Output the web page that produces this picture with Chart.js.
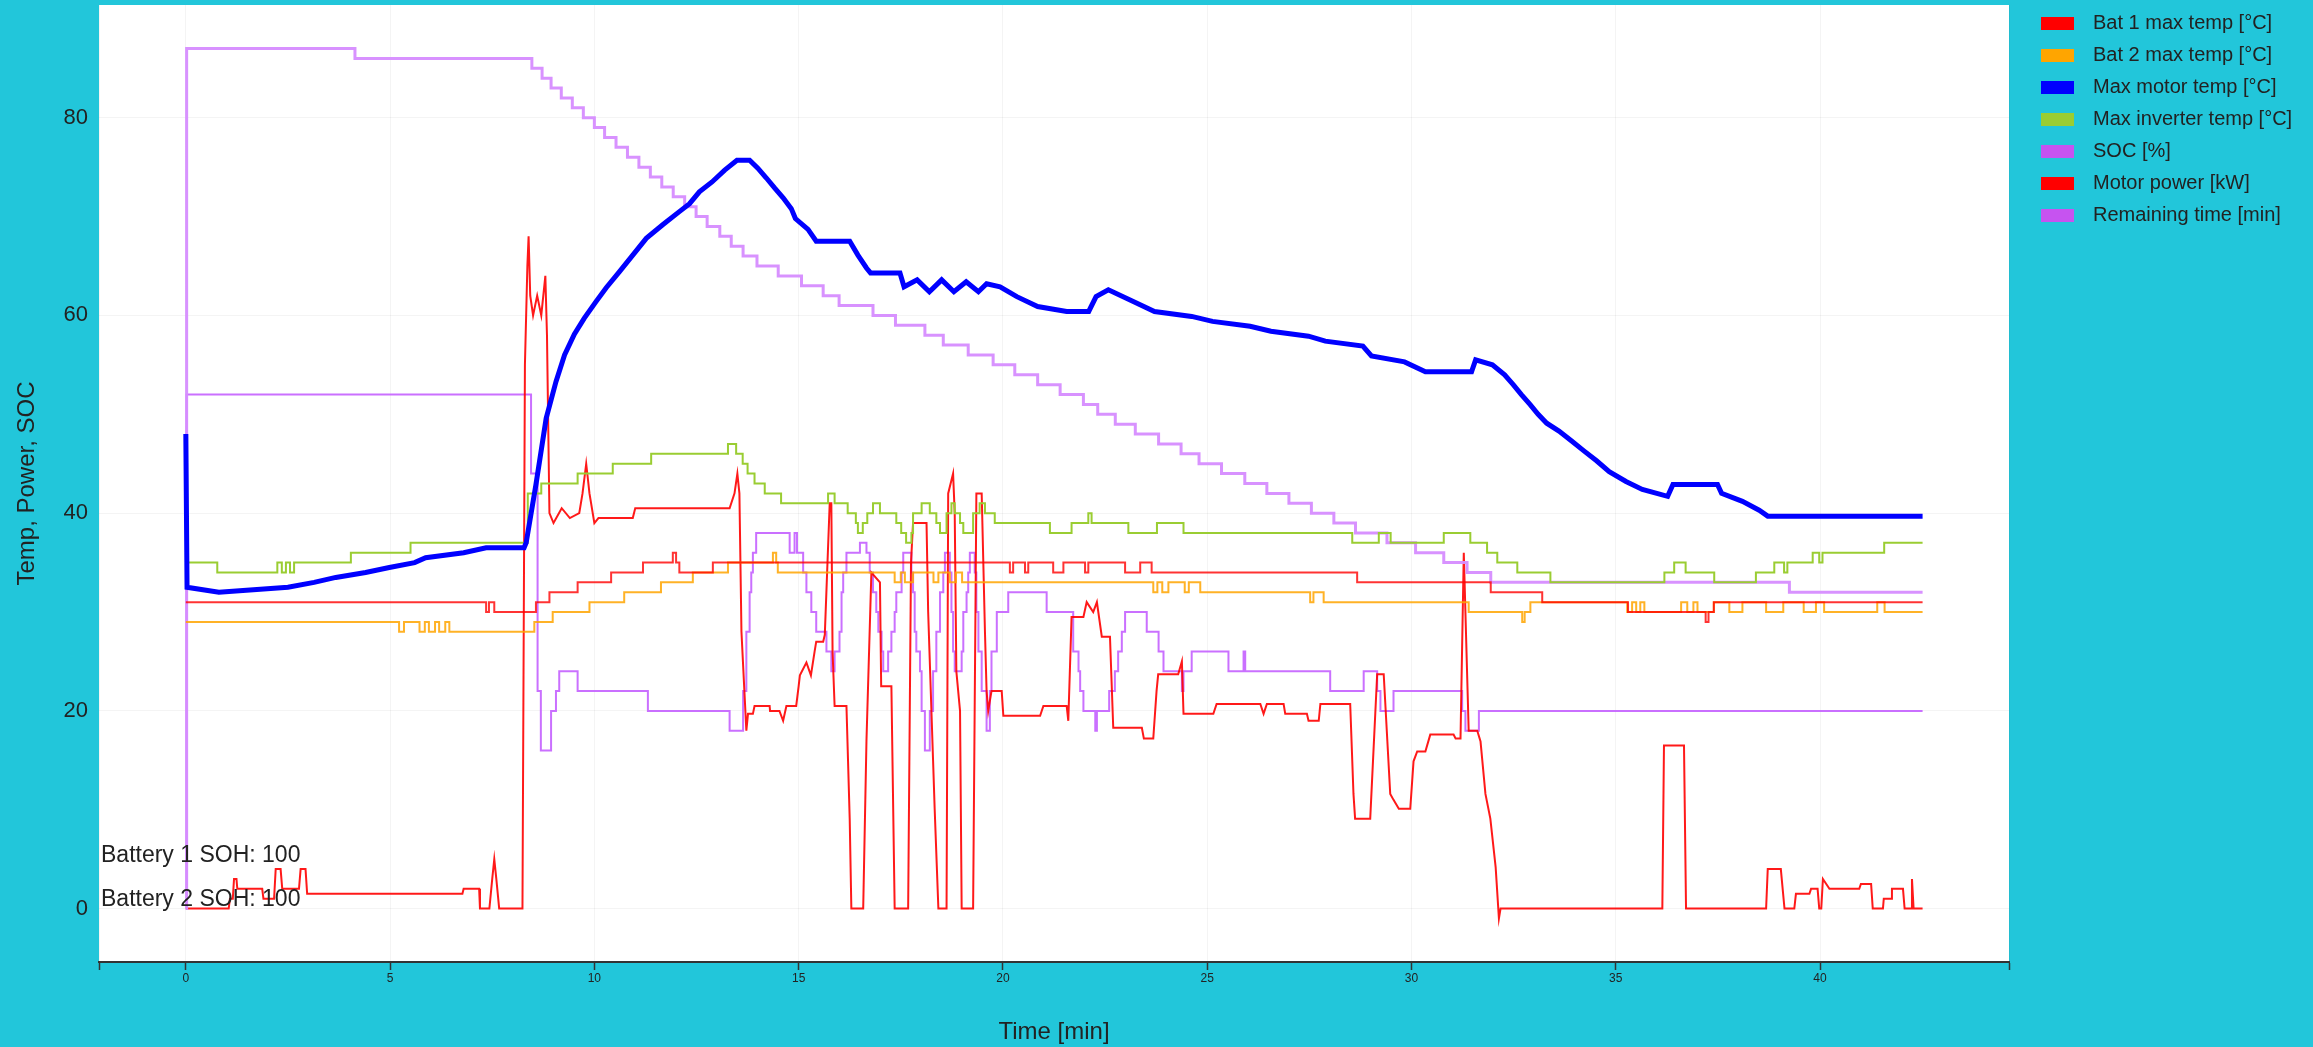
<!DOCTYPE html>
<html>
<head>
<meta charset="utf-8">
<script src="https://cdn.jsdelivr.net/npm/chart.js@4.4.1/dist/chart.umd.min.js"></script>
<style>
  html, body { margin: 0; padding: 0; background: #22c6da; overflow: hidden; }
  #wrap { position: relative; width: 2313px; height: 1047px; }
</style>
</head>
<body>
<div id="wrap"><canvas id="chart"></canvas></div>
<script>
// ---------------- DATA (time [min], value) ----------------
const seriesLabels = [
  'Bat 1 max temp [°C]', 'Bat 2 max temp [°C]', 'Max motor temp [°C]',
  'Max inverter temp [°C]', 'SOC [%]', 'Motor power [kW]', 'Remaining time [min]'
];
const xTickStep = 5;
const yTickValues = [0, 20, 40, 60, 80];
const sohLabels = ['Battery 1 SOH: 100', 'Battery 2 SOH: 100'];

const bat1MaxTemp = [[0,31],[7.35,30],[7.42,31],[7.55,30],[8.57,31],[8.9,32],[9.59,33],[10.41,34],[11.19,35],[11.92,36],[12.0,35],[12.08,34],[12.9,35],[20.17,34],[20.25,35],[20.54,34],[20.62,35],[21.23,34],[21.48,35],[22.01,34],[22.09,35],[22.99,34],[23.36,35],[23.64,34],[28.67,33],[31.94,32],[33.2,31],[35.3,30],[37.2,29],[37.27,30],[37.4,31],[42.51,31]];

const bat2MaxTemp = [[0,29],[5.22,28],[5.34,29],[5.72,28],[5.85,29],[5.95,28],[6.1,29],[6.2,28],[6.35,29],[6.45,28],[8.53,29],[8.98,30],[9.88,31],[10.73,32],[11.63,33],[12.41,34],[13.27,35],[14.37,36],[14.45,35],[14.49,34],[17.35,33],[17.5,34],[17.6,33],[17.8,34],[18.3,33],[18.42,34],[18.7,33],[18.85,34],[19.0,33],[23.68,32],[23.78,33],[23.9,32],[24.05,33],[24.45,32],[24.55,33],[24.83,32],[27.52,31],[27.6,32],[27.85,31],[31.4,30],[32.71,29],[32.77,30],[32.91,31],[35.28,30],[35.4,31],[35.5,30],[35.6,31],[35.7,30],[36.6,31],[36.75,30],[36.9,31],[37.0,30],[37.4,31],[37.78,30],[38.1,31],[38.68,30],[39.1,31],[39.6,30],[39.9,31],[40.1,30],[41.4,31],[41.58,30],[42.51,30]];

const maxMotorTemp = [[0,48],[0.03,32.5],[0.81,32],[2.5,32.5],[3.14,33],[3.67,33.5],[4.4,34],[4.98,34.5],[5.6,35],[5.87,35.5],[6.8,36],[7.35,36.5],[8.28,36.5],[8.33,37],[8.57,42.9],[8.82,49.6],[9.06,53.3],[9.27,56],[9.51,58.1],[9.75,59.7],[10.04,61.4],[10.29,62.8],[10.61,64.4],[10.94,66.1],[11.27,67.8],[11.68,69.2],[12.08,70.5],[12.33,71.3],[12.57,72.5],[12.88,73.5],[13.19,74.7],[13.49,75.7],[13.8,75.7],[14.0,74.9],[14.21,73.9],[14.41,72.9],[14.62,71.9],[14.82,70.8],[14.92,69.8],[15.23,68.7],[15.43,67.5],[16.25,67.5],[16.45,66.1],[16.66,64.8],[16.76,64.3],[17.48,64.3],[17.58,62.9],[17.9,63.6],[18.2,62.4],[18.5,63.6],[18.8,62.4],[19.1,63.4],[19.4,62.4],[19.6,63.2],[19.93,62.9],[20.34,61.9],[20.85,60.9],[21.56,60.4],[22.1,60.4],[22.28,61.9],[22.58,62.6],[23.19,61.4],[23.71,60.4],[24.62,59.9],[25.13,59.4],[26.05,58.9],[26.56,58.4],[27.48,57.9],[27.89,57.4],[28.81,56.9],[29.02,55.9],[29.83,55.3],[30.34,54.3],[31.47,54.3],[31.57,55.5],[31.98,55],[32.28,54],[32.49,53],[32.69,52],[32.9,51],[33.1,50],[33.31,49.1],[33.61,48.3],[33.92,47.3],[34.22,46.3],[34.53,45.3],[34.84,44.2],[35.25,43.2],[35.65,42.4],[36.27,41.7],[36.4,42.9],[37.49,42.9],[37.59,42],[38.1,41.2],[38.51,40.3],[38.72,39.7],[42.51,39.7]];

const maxInverterTemp = [[0,35],[0.77,34],[2.24,35],[2.35,34],[2.45,35],[2.55,34],[2.65,35],[4.04,36],[5.5,37],[8.24,37],[8.37,42],[8.7,43],[9.59,44],[10.45,45],[11.39,46],[13.27,47],[13.47,46],[13.63,45],[13.75,44],[13.92,43],[14.17,42],[14.57,41],[15.72,42],[15.88,41],[16.2,40],[16.4,39],[16.45,38],[16.57,39],[16.68,40],[16.82,41],[16.99,40],[17.39,39],[17.51,38],[17.63,37],[17.76,38],[17.8,40],[18.01,41],[18.21,40],[18.37,39],[18.46,38],[18.62,40],[18.74,41],[18.82,40],[18.95,39],[19.03,38],[19.27,40],[19.43,41],[19.56,40],[19.8,39],[21.15,38],[21.68,39],[22.09,40],[22.17,39],[23.07,38],[23.77,39],[24.42,38],[28.55,37],[29.2,38],[29.49,37],[30.79,38],[31.44,37],[31.85,36],[32.1,35],[32.59,34],[33.4,33],[36.19,34],[36.43,35],[36.71,34],[37.41,33],[38.43,34],[38.88,35],[39.12,34],[39.2,35],[39.82,36],[39.98,35],[40.06,36],[41.57,37],[42.51,37]];

const socPercent = [[0,0],[0.02,87],[4.14,86],[8.47,85],[8.72,84],[8.94,83],[9.19,82],[9.46,81],[9.73,80],[10.0,79],[10.25,78],[10.53,77],[10.81,76],[11.09,75],[11.37,74],[11.65,73],[11.93,72],[12.21,71],[12.49,70],[12.76,69],[13.07,68],[13.35,67],[13.64,66],[13.98,65],[14.5,64],[15.07,63],[15.6,62],[15.99,61],[16.82,60],[17.37,59],[18.09,58],[18.54,57],[19.15,56],[19.76,55],[20.29,54],[20.85,53],[21.4,52],[21.97,51],[22.32,50],[22.75,49],[23.24,48],[23.81,47],[24.36,46],[24.8,45],[25.35,44],[25.92,43],[26.46,42],[27.0,41],[27.55,40],[28.1,39],[28.63,38],[29.4,37],[30.1,36],[30.79,35],[31.36,34],[31.94,33],[39.25,32],[42.51,32]];

const motorPower = [[0,0],[1.05,0],[1.08,1],[1.15,1],[1.18,3],[1.24,3],[1.26,2],[1.87,2],[1.9,1],[2.16,1],[2.2,4],[2.32,4],[2.36,2],[2.77,2],[2.81,4],[2.93,4],[2.97,1.5],[6.77,1.5],[6.8,2],[7.18,2],[7.2,0],[7.43,0],[7.5,3],[7.55,5],[7.6,3],[7.67,0],[8.24,0],[8.3,55],[8.36,65],[8.39,68],[8.43,62],[8.5,60],[8.6,62],[8.7,60],[8.8,64],[8.84,58],[8.9,40],[9.0,39],[9.2,40.5],[9.4,39.5],[9.63,40],[9.71,42],[9.8,45],[9.88,42],[10.0,39],[10.1,39.5],[10.94,39.5],[11.0,40.5],[13.31,40.5],[13.43,42],[13.5,44],[13.55,42],[13.6,28],[13.72,18],[13.76,19.7],[13.88,19.7],[13.92,20.5],[14.29,20.5],[14.3,20],[14.53,20],[14.62,19],[14.7,20.5],[14.94,20.5],[15.0,22.5],[15.03,23.6],[15.19,24.9],[15.3,23.6],[15.39,26],[15.43,27],[15.6,27],[15.64,27.7],[15.76,41],[15.8,41],[15.83,26],[15.88,20.5],[16.17,20.5],[16.25,9],[16.29,0],[16.58,0],[16.66,17],[16.78,34],[16.99,33],[17.02,22.5],[17.27,22.5],[17.35,0],[17.68,0],[17.75,35],[17.8,39],[18.13,39],[18.17,30],[18.29,15],[18.33,10],[18.42,0],[18.62,0],[18.66,42],[18.78,44],[18.82,40],[18.86,24],[18.95,20],[18.99,0],[19.27,0],[19.35,42],[19.48,42],[19.56,28],[19.6,22],[19.64,20],[19.72,22],[19.97,22],[20.01,19.5],[20.91,19.5],[20.99,20.5],[21.56,20.5],[21.6,19],[21.68,29.5],[21.97,29.5],[22.05,31],[22.21,30],[22.3,31],[22.42,27.5],[22.62,27.5],[22.7,18.3],[23.4,18.3],[23.45,17.2],[23.68,17.2],[23.76,22],[23.8,23.7],[24.29,23.7],[24.38,25],[24.42,19.7],[25.15,19.7],[25.23,20.7],[26.3,20.7],[26.38,19.7],[26.46,20.7],[26.87,20.7],[26.91,19.7],[27.44,19.7],[27.48,19],[27.73,19],[27.77,20.7],[28.5,20.7],[28.58,11.6],[28.62,9.1],[28.99,9.1],[29.16,23.7],[29.32,23.7],[29.48,11.6],[29.56,11],[29.69,10.1],[29.97,10.1],[30.05,14.9],[30.14,15.9],[30.34,15.9],[30.46,17.6],[31.03,17.6],[31.08,17.2],[31.2,17.2],[31.28,36],[31.4,18],[31.61,18],[31.69,16.9],[31.81,11.6],[31.93,9.1],[32.06,4.2],[32.14,-1],[32.18,0],[36.14,0],[36.18,16.5],[36.67,16.5],[36.72,0],[38.68,0],[38.72,4],[39.04,4],[39.13,0],[39.37,0],[39.41,1.5],[39.74,1.5],[39.78,2],[39.94,2],[39.98,0],[40.03,0],[40.07,3],[40.23,2],[40.96,2],[41.0,2.5],[41.25,2.5],[41.29,0],[41.54,0],[41.56,1],[41.74,1],[41.76,2],[42.03,2],[42.07,0],[42.23,0],[42.25,3],[42.29,0],[42.51,0]];

const remainingTime = [[0,0],[0.02,52],[8.45,44],[8.61,22],[8.69,16],[8.94,20],[9.06,22],[9.14,24],[9.59,22],[11.31,20],[13.31,18],[13.64,22],[13.72,28],[13.8,32],[13.84,34],[13.88,36],[13.96,38],[14.78,36],[14.9,38],[14.96,36],[15.11,34],[15.19,32],[15.31,30],[15.43,28],[15.68,26],[15.8,24],[15.88,26],[16.0,28],[16.05,32],[16.09,34],[16.17,36],[16.5,37],[16.66,36],[16.74,34],[16.82,32],[16.9,30],[16.95,28],[17.03,26],[17.07,24],[17.19,26],[17.27,28],[17.35,30],[17.39,32],[17.52,34],[17.56,36],[17.76,34],[17.8,32],[17.84,28],[17.88,26],[17.97,24],[18.01,20],[18.09,16],[18.21,20],[18.29,24],[18.37,28],[18.46,32],[18.54,34],[18.58,36],[18.7,34],[18.74,30],[18.78,26],[18.82,24],[18.99,26],[19.03,30],[19.11,32],[19.15,34],[19.19,36],[19.31,34],[19.35,30],[19.4,26],[19.48,22],[19.6,18],[19.68,22],[19.72,26],[19.85,30],[20.13,32],[21.07,30],[21.72,26],[21.85,24],[21.89,22],[21.97,20],[22.26,18],[22.3,20],[22.6,22],[22.74,24],[22.82,26],[22.91,28],[22.99,30],[23.52,28],[23.81,26],[23.93,24],[24.38,22],[24.42,24],[24.62,26],[25.52,24],[25.89,26],[25.93,24],[28.01,22],[28.83,24],[29.16,22],[29.24,20],[29.56,22],[31.24,20],[31.32,18],[31.65,20],[42.51,20]];

// ---------------- STYLE ----------------
const FONT = "'Liberation Sans', Arial, sans-serif";
const lineColors = ['rgba(255,0,0,0.8)', 'rgba(255,165,0,0.85)', '#0000ff', '#9acd32',
                    'rgba(214,140,255,0.95)', 'rgba(255,0,0,0.9)', 'rgba(196,96,255,0.9)'];
const legendColors = ['#ff0000', '#ffa500', '#0000ff', '#9acd32', '#c653f0', '#ff0000', '#c653f0'];
const lineWidths = [2, 2, 5, 2, 3, 2, 2];
// 'before' in Chart.js = hold previous value, then jump at the next point's time
const stepModes = ['before', 'before', false, 'before', 'before', false, 'before'];
const seriesData = [bat1MaxTemp, bat2MaxTemp, maxMotorTemp, maxInverterTemp, socPercent, motorPower, remainingTime];

function swatch(color) {
  const c = document.createElement('canvas');
  c.width = 42; c.height = 13;
  const g = c.getContext('2d');
  g.fillStyle = color;
  g.fillRect(0, 0, 33, 13);
  return c;
}
const swatches = legendColors.map(swatch);

const datasets = seriesLabels.map((label, i) => ({
  label,
  data: seriesData[i].map(([x, y]) => ({ x, y })),
  borderColor: lineColors[i],
  backgroundColor: legendColors[i],
  borderWidth: lineWidths[i],
  stepped: stepModes[i],
  pointRadius: 0,
  pointHoverRadius: 0,
  tension: 0,
  fill: false
}));

const layoutPlugin = {
  id: 'layoutPlugin',
  beforeUpdate(chart) {
    const lg = chart.legend;
    if (lg && !lg._fixedWidth) {
      const orig = lg.fit;
      lg.fit = function () { orig.call(this); this.width = 304; };
      lg._fixedWidth = true;
    }
  },
  afterLayout(chart) {
    const lg = chart.legend;
    if (lg) { lg.left = 2029; lg.right = 2313; lg.top = 1; }
  },
  beforeDraw(chart) {
    const { ctx, chartArea: a } = chart;
    ctx.save();
    ctx.fillStyle = '#ffffff';
    ctx.fillRect(a.left, a.top, a.right - a.left, a.bottom - a.top);
    ctx.restore();
  },
  afterDatasetsDraw(chart) {
    const { ctx, chartArea: a } = chart;
    ctx.save();
    ctx.font = '23px ' + FONT;
    ctx.fillStyle = '#222222';
    ctx.textBaseline = 'alphabetic';
    ctx.textAlign = 'left';
    ctx.fillText(sohLabels[0], a.left + 2, 862);
    ctx.fillText(sohLabels[1], a.left + 2, 906);
    ctx.restore();
  }
};

new Chart(document.getElementById('chart'), {
  type: 'line',
  data: { datasets },
  plugins: [layoutPlugin],
  options: {
    responsive: true,
    maintainAspectRatio: false,
    animation: false,
    events: [],
    layout: { padding: { left: 0, right: 0, top: 1, bottom: 0 } },
    plugins: {
      tooltip: { enabled: false },
      legend: {
        position: 'right',
        align: 'start',
        labels: {
          font: { family: FONT, size: 20 },
          color: '#222222',
          padding: 12,
          boxHeight: 13,
          usePointStyle: true,
          pointStyleWidth: 42,
          generateLabels(chart) {
            return chart.data.datasets.map((ds, i) => ({
              text: ds.label,
              fillStyle: legendColors[i],
              strokeStyle: legendColors[i],
              lineWidth: 0,
              pointStyle: swatches[i],
              rotation: 0,
              hidden: false,
              datasetIndex: i,
              fontColor: '#222222'
            }));
          }
        }
      }
    },
    scales: {
      x: {
        type: 'linear',
        min: -2.125,
        max: 44.625,
        title: {
          display: true, text: 'Time [min]', color: '#222222',
          font: { family: FONT, size: 24 }, padding: { top: 0, bottom: 0 }
        },
        ticks: {
          stepSize: xTickStep,
          autoSkip: false,
          maxRotation: 0,
          padding: 1,
          color: '#222222',
          font: { family: FONT, size: 12 },
          callback: (v) => (Math.abs(v % xTickStep) < 1e-9 ? String(v) : '')
        },
        grid: { color: 'rgba(0,0,0,0.045)', tickColor: '#333333', tickLength: 8, tickWidth: 1.5 },
        border: { display: true, color: '#333333', width: 2 },
        afterFit(scale) { scale.height = 85; scale.paddingLeft = 0; scale.paddingRight = 0; }
      },
      y: {
        type: 'linear',
        min: -5.4,
        max: 91.4,
        afterBuildTicks(scale) { scale.ticks = yTickValues.map(v => ({ value: v })); },
        title: {
          display: true, text: 'Temp, Power, SOC', color: '#222222',
          font: { family: FONT, size: 24 }, padding: { top: 13, bottom: 0 }
        },
        ticks: {
          padding: 11,
          color: '#222222',
          font: { family: FONT, size: 22 }
        },
        grid: { color: 'rgba(0,0,0,0.045)', drawTicks: false },
        border: { display: false },
        afterFit(scale) { scale.width = 99; scale.paddingTop = 5; scale.paddingBottom = 0; }
      }
    }
  }
});
</script>
</body>
</html>
